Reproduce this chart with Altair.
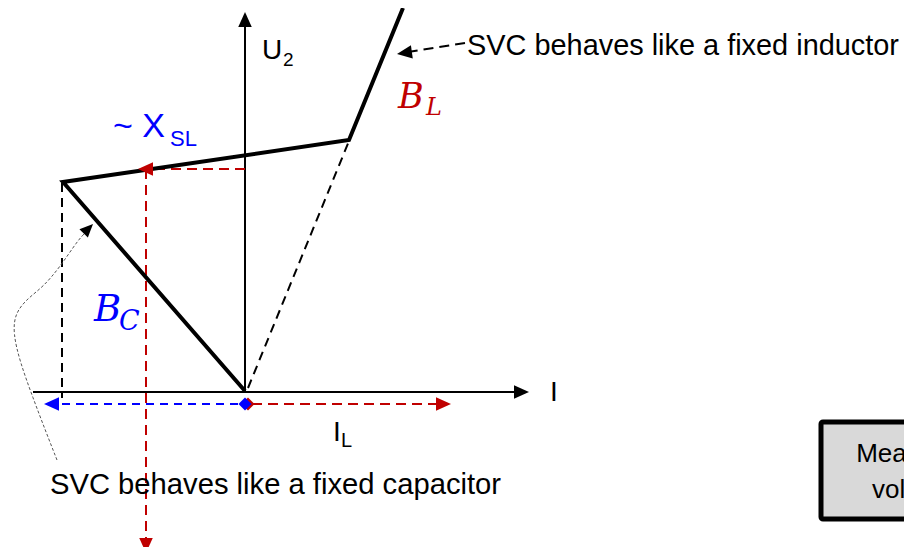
import altair as alt
import pandas as pd

# ---- chart geometry (page pixels of the reference, page margin is 8px) ----
W, H = 896, 539
XS = alt.Scale(domain=[8, 904], zero=False, nice=False)
YS = alt.Scale(domain=[547, 8], zero=False, nice=False)

# ---- data ----
# SVC characteristic (thick black polyline): capacitor branch, control range, inductor branch
char_x = [245, 63, 349, 403]
char_y = [391, 182, 140, 8]

# axes (U2 vertical, I horizontal)
axis_x = [245, 33]
axis_y = [391, 392]
axis_x2 = [245, 518]
axis_y2 = [26, 392]

# black dashed guides
bdash_x = [248, 62]
bdash_y = [388, 183]
bdash_x2 = [349, 62]
bdash_y2 = [141, 398]

# red dashed guides (operating point projection)
rdash_x = [245, 146, 252]
rdash_y = [169, 169, 404]
rdash_x2 = [152, 146, 438]
rdash_y2 = [169, 540, 404]

# blue dashed (capacitive current)
blue_x = [238]
blue_y = [404]
blue_x2 = [56]
blue_y2 = [404]

# annotation arrow for the inductor label
ann_x = [465]
ann_y = [43]
ann_x2 = [408]
ann_y2 = [52]

# thin dotted curve to the capacitor branch
curve_x = [57, 46, 33, 20, 13, 15, 28, 43, 60, 78, 86]
curve_y = [460, 432, 398, 362, 333, 313, 298, 287, 267, 240, 232]

# arrowheads: tip position, angle, size, colour
head_x = [245, 529, 138, 146, 44, 451, 397, 93]
head_y = [12, 392, 169, 553, 404, 404, 54, 224]
head_a = [0, 90, 270, 180, 270, 90, 262, 45]
head_s = [900, 900, 900, 900, 900, 900, 900, 700]
head_c = ["black", "black", "#c00000", "#c00000", "#0000ff", "#c00000", "black", "black"]

# operating point diamonds
dia_x = [248, 245]
dia_y = [404, 404]
dia_c = ["#c00000", "#0000ff"]

ARROW = "M0,0L0.45,1L-0.45,1Z"


def seg(xs, ys, x2s, y2s, **mk):
    df = pd.DataFrame({"x": xs, "y": ys, "x2": x2s, "y2": y2s})
    return alt.Chart(df).mark_rule(**mk).encode(
        x=alt.X("x:Q", scale=XS, axis=None),
        y=alt.Y("y:Q", scale=YS, axis=None),
        x2="x2:Q",
        y2="y2:Q",
    )


def poly(xs, ys, **mk):
    df = pd.DataFrame({"x": xs, "y": ys, "i": list(range(len(xs)))})
    return alt.Chart(df).mark_line(**mk).encode(
        x=alt.X("x:Q", scale=XS, axis=None),
        y=alt.Y("y:Q", scale=YS, axis=None),
        order="i:Q",
    )


def txt(x, y, text, size, color="black", font="Liberation Sans", style="normal", align="left"):
    df = pd.DataFrame({"x": [x], "y": [y], "t": [text]})
    return alt.Chart(df).mark_text(
        align=align, baseline="alphabetic", fontSize=size, color=color,
        font=font, fontStyle=style,
    ).encode(
        x=alt.X("x:Q", scale=XS, axis=None),
        y=alt.Y("y:Q", scale=YS, axis=None),
        text="t:N",
    )


layers = []

# measured voltage box (partly outside the view, as in the reference)
box = pd.DataFrame({"x": [821], "x2": [1010], "y": [422], "y2": [519]})
layers.append(
    alt.Chart(box).mark_rect(fill="#d9d9d9", stroke="black", strokeWidth=5, cornerRadius=2).encode(
        x=alt.X("x:Q", scale=XS, axis=None), x2="x2:Q",
        y=alt.Y("y:Q", scale=YS, axis=None), y2="y2:Q",
    )
)
layers.append(txt(914, 462, "Measured", 26, align="center"))
layers.append(txt(914, 498, "voltage", 26, align="center"))

layers.append(seg(axis_x, axis_y, axis_x2, axis_y2, color="black", strokeWidth=2))
layers.append(seg(bdash_x, bdash_y, bdash_x2, bdash_y2, color="black", strokeWidth=2,
                  strokeDash=[9, 6]))
layers.append(seg(rdash_x, rdash_y, rdash_x2, rdash_y2, color="#c00000", strokeWidth=2,
                  strokeDash=[10, 6]))
layers.append(seg(blue_x, blue_y, blue_x2, blue_y2, color="#0000ff", strokeWidth=2,
                  strokeDash=[8, 6]))
layers.append(seg(ann_x, ann_y, ann_x2, ann_y2, color="black", strokeWidth=2,
                  strokeDash=[10, 6]))
layers.append(poly(curve_x, curve_y, color="#555555", strokeWidth=1, strokeDash=[3, 2],
                   interpolate="basis"))
layers.append(poly(char_x, char_y, color="black", strokeWidth=4, strokeJoin="miter"))

heads = pd.DataFrame({"x": head_x, "y": head_y, "a": head_a, "s": head_s, "c": head_c})
layers.append(
    alt.Chart(heads).mark_point(shape=ARROW, filled=True, opacity=1, strokeWidth=0).encode(
        x=alt.X("x:Q", scale=XS, axis=None),
        y=alt.Y("y:Q", scale=YS, axis=None),
        angle=alt.Angle("a:Q", scale=None),
        size=alt.Size("s:Q", scale=None),
        color=alt.Color("c:N", scale=None),
    )
)

dia = pd.DataFrame({"x": dia_x, "y": dia_y, "c": dia_c, "o": [0, 1]})
layers.append(
    alt.Chart(dia).mark_point(shape="diamond", filled=True, opacity=1, size=170).encode(
        x=alt.X("x:Q", scale=XS, axis=None),
        y=alt.Y("y:Q", scale=YS, axis=None),
        color=alt.Color("c:N", scale=None),
        order="o:Q",
    )
)

# labels
layers.append(txt(467, 55, "SVC behaves like a fixed inductor", 28.9))
layers.append(txt(50, 494, "SVC behaves like a fixed capacitor", 29.2))
layers.append(txt(262, 59, "U", 28))
layers.append(txt(283, 66, "2", 19))
layers.append(txt(550, 401, "I", 28))
layers.append(txt(333, 441, "I", 28))
layers.append(txt(341, 447, "L", 20))
layers.append(txt(113, 137, "~ X", 34, color="#0000ff"))
layers.append(txt(170, 146, "SL", 22, color="#0000ff"))
layers.append(txt(398, 108, "B", 35, color="#c00000", font="DejaVu Serif", style="italic"))
layers.append(txt(426, 115, "L", 24, color="#c00000", font="DejaVu Serif", style="italic"))
layers.append(txt(94, 321, "B", 37, color="#0000ff", font="DejaVu Serif", style="italic"))
layers.append(txt(119, 330, "C", 27, color="#0000ff", font="DejaVu Serif", style="italic"))

chart = alt.layer(*layers).properties(
    width=W, height=H, padding=0, autosize=alt.AutoSizeParams(type="none")
).configure_view(stroke=None)

chart.save("out.html", embed_options={"renderer": "svg", "actions": False})
